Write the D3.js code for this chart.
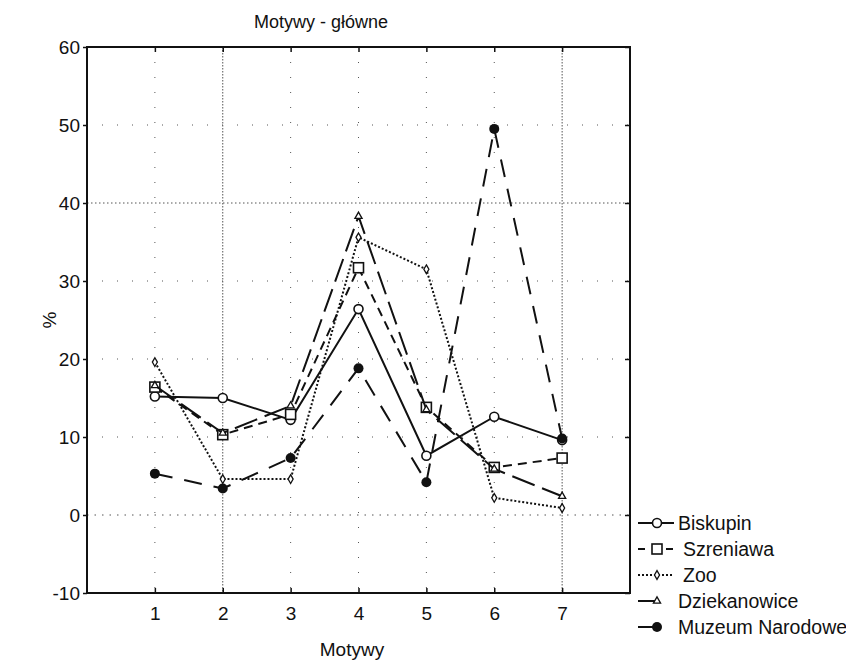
<!DOCTYPE html>
<html>
<head>
<meta charset="utf-8">
<script src="https://cdn.jsdelivr.net/npm/d3@7"></script>
<style>
  body { margin: 0; background: #fff; }
  text { font-family: "Liberation Sans", Arial, sans-serif; fill: #111; }
</style>
</head>
<body>
<svg id="chart" width="846" height="661"></svg>
<script>
// data
var categories = [1, 2, 3, 4, 5, 6, 7];
var yTicks = [-10, 0, 10, 20, 30, 40, 50, 60];
var seriesNames = ["Biskupin", "Szreniawa", "Zoo", "Dziekanowice", "Muzeum Narodowe"];
var biskupin = [15.2, 15.0, 12.2, 26.4, 7.6, 12.6, 9.6];
var szreniawa = [16.4, 10.3, 12.9, 31.7, 13.8, 6.1, 7.3];
var zoo = [19.6, 4.6, 4.6, 35.6, 31.5, 2.2, 0.9];
var dziekanowice = [16.6, 10.5, 14.0, 38.3, 13.5, 5.9, 2.4];
var muzeum = [5.3, 3.4, 7.3, 18.8, 4.2, 49.5, 9.8];

var seriesValues = [biskupin, szreniawa, zoo, dziekanowice, muzeum];
// line dash + marker type for each series
var styles = [
  { dash: null, marker: "circle" },
  { dash: "9,6", marker: "square" },
  { dash: "2,2", marker: "diamond" },
  { dash: "24,8", marker: "triangle" },
  { dash: "18,12", marker: "dot" }
];

var svg = d3.select("#chart");
// plot frame (window.top is taken, so prefix these)
var plotL = 87, plotR = 630, plotT = 47, plotB = 593;

var x = d3.scaleLinear().domain([0, 8]).range([plotL, plotR]);
var y = d3.scaleLinear().domain([-10, 60]).range([plotB, plotT]);

// grid - the scan only keeps some of it
var grid = svg.append("g").attr("class", "grid");
grid.selectAll("line.gx")
  .data(categories)
  .enter()
  .append("line")
  .attr("x1", (d) => x(d)).attr("x2", (d) => x(d))
  .attr("y1", plotT).attr("y2", plotB)
  .attr("stroke", "#555")
  .attr("stroke-width", 1)
  .attr("stroke-dasharray", (d) => (d == 2 || d == 7 ? "1.5,1.5" : "1,14"));
grid.selectAll("line.gy")
  .data(yTicks.filter((d) => d > -10 && d < 60))
  .enter()
  .append("line")
  .attr("x1", plotL).attr("x2", plotR)
  .attr("y1", (d) => y(d)).attr("y2", (d) => y(d))
  .attr("stroke", "#555")
  .attr("stroke-width", 1)
  .attr("stroke-dasharray", (d) => (d == 40 ? "1.5,2.5" : d == 0 ? "1.5,6" : "1,14"));

// axes, plain hyphen for negatives like the scan
var axisLeft = d3.axisLeft(y).tickValues(yTicks).tickSize(4).tickPadding(3)
  .tickFormat((d) => String(d));
var axisBottom = d3.axisBottom(x).tickValues(categories).tickSize(-5).tickPadding(14);
var axisTop = d3.axisTop(x).tickValues(categories).tickSize(-5).tickFormat("");
var axisRight = d3.axisRight(y).tickValues(yTicks).tickSize(-5).tickFormat("");

function styleAxis(g) {
  g.select(".domain").remove();
  g.selectAll("line").attr("stroke", "#111").attr("stroke-width", 1.5);
  g.selectAll("text").attr("font-size", 19).attr("fill", "#111")
    .attr("font-family", "'Liberation Sans', Arial, sans-serif");
}

svg.append("g").attr("transform", "translate(" + plotL + ",0)").call(axisLeft).call(styleAxis);
svg.append("g").attr("transform", "translate(0," + plotB + ")").call(axisBottom).call(styleAxis);
svg.append("g").attr("transform", "translate(0," + plotT + ")").call(axisTop).call(styleAxis);
svg.append("g").attr("transform", "translate(" + plotR + ",0)").call(axisRight).call(styleAxis);

svg.append("rect")
  .attr("x", plotL).attr("y", plotT)
  .attr("width", plotR - plotL).attr("height", plotB - plotT)
  .attr("fill", "none")
  .attr("stroke", "#111")
  .attr("stroke-width", 2);

// lines
var line = d3.line()
  .x((d, i) => x(categories[i]))
  .y((d) => y(d));

function drawMarker(g, type, cx, cy) {
  if (type == "circle") {
    g.append("circle").attr("cx", cx).attr("cy", cy).attr("r", 4.5)
      .attr("fill", "#fff").attr("stroke", "#111").attr("stroke-width", 1.6);
  } else if (type == "square") {
    g.append("rect").attr("x", cx - 5).attr("y", cy - 5).attr("width", 10).attr("height", 10)
      .attr("fill", "#fff").attr("stroke", "#111").attr("stroke-width", 1.6);
  } else if (type == "diamond") {
    g.append("path").attr("d", d3.symbol(d3.symbolDiamond, 22)())
      .attr("transform", "translate(" + cx + "," + cy + ")")
      .attr("fill", "#fff").attr("stroke", "#111").attr("stroke-width", 1.3);
  } else if (type == "triangle") {
    g.append("path").attr("d", d3.symbol(d3.symbolTriangle, 22)())
      .attr("transform", "translate(" + cx + "," + cy + ")")
      .attr("fill", "#fff").attr("stroke", "#111").attr("stroke-width", 1.3);
  } else {
    g.append("circle").attr("cx", cx).attr("cy", cy).attr("r", 5)
      .attr("fill", "#111");
  }
}

seriesValues.forEach(function (vals, k) {
  var g = svg.append("g").attr("class", "series");
  g.append("path")
    .attr("d", line(vals))
    .attr("fill", "none")
    .attr("stroke", "#111")
    .attr("stroke-width", 2)
    .attr("stroke-dasharray", styles[k].dash);
  vals.forEach(function (v, i) {
    drawMarker(g, styles[k].marker, x(categories[i]), y(v));
  });
});

// titles
svg.append("text")
  .attr("x", 321).attr("y", 28)
  .attr("text-anchor", "middle")
  .attr("font-size", 18)
  .text("Motywy - główne");

svg.append("text")
  .attr("x", 352).attr("y", 656)
  .attr("text-anchor", "middle")
  .attr("font-size", 19)
  .text("Motywy");

svg.append("text")
  .attr("transform", "translate(56,320) rotate(-90)")
  .attr("text-anchor", "middle")
  .attr("font-size", 19)
  .text("%");

// legend
var legend = svg.append("g").attr("transform", "translate(638,523)");
seriesNames.forEach(function (name, k) {
  var row = legend.append("g").attr("transform", "translate(0," + k * 26 + ")");
  var lineEnd = k >= 3 ? 20 : 36;
  row.append("line")
    .attr("x1", 0).attr("x2", lineEnd)
    .attr("y1", 0).attr("y2", 0)
    .attr("stroke", "#111")
    .attr("stroke-width", 2)
    .attr("stroke-dasharray", k == 1 ? "7,7" : k == 2 ? "2,2" : null);
  drawMarker(row, styles[k].marker, 19, 0);
  row.append("text")
    .attr("x", k == 1 || k == 2 ? 45 : 40)
    .attr("y", 7)
    .attr("font-size", 19.5)
    .text(name);
});
</script>
</body>
</html>
